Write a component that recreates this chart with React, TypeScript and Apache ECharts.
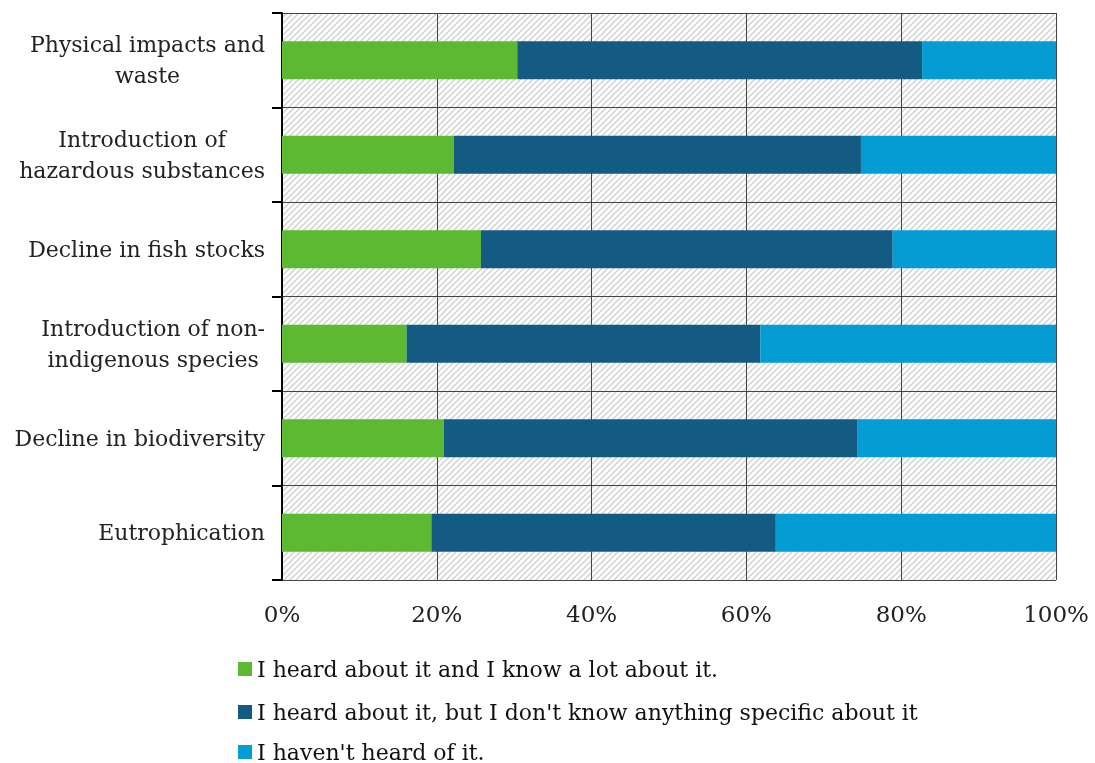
import React, { useEffect, useRef } from "react";
import * as echarts from "echarts";

const categories = [
  "Physical impacts and\nwaste",
  "Introduction of\nhazardous substances",
  "Decline in fish stocks",
  "Introduction of non-\nindigenous species",
  "Decline in biodiversity",
  "Eutrophication",
];

const knowALot = [30.4, 22.2, 25.7, 16.1, 20.9, 19.3];
const heardNothingSpecific = [52.3, 52.6, 53.2, 45.7, 53.4, 44.5];
const neverHeard = [17.3, 25.2, 21.1, 38.2, 25.7, 36.2];

const seriesNames = [
  "I heard about it and I know a lot about it.",
  "I heard about it, but I don't know anything specific about it",
  "I haven't heard of it.",
];

const xTicks = [0, 20, 40, 60, 80, 100];

const COLORS = ["#5DB832", "#145B84", "#039CD3"];
const FONT = "DejaVu Serif";

// one legend row per series, stacked from this top offset
const LEGEND_ROW_TOPS = [657, 700, 740];

const hatchSvg =
  '<svg xmlns="http://www.w3.org/2000/svg" width="6" height="6">' +
  '<rect width="6" height="6" fill="#ffffff"/>' +
  '<path d="M-1.5 1.5 L1.5 -1.5 M0 6 L6 0 M4.5 7.5 L7.5 4.5" stroke="#d2d2d2" stroke-width="1.5"/>' +
  "</svg>";
const hatchUrl = "data:image/svg+xml;base64," + btoa(hatchSvg);

export default function App() {
  const ref = useRef<HTMLDivElement>(null);

  useEffect(() => {
    if (!ref.current) return;
    const chart = echarts.init(ref.current, null, { renderer: "svg" });
    const data = [knowALot, heardNothingSpecific, neverHeard];
    chart.setOption({
      animation: false,
      grid: {
        left: 282,
        right: 39,
        top: 13,
        bottom: 183,
        show: true,
        borderWidth: 0,
        backgroundColor: { image: hatchUrl, repeat: "repeat" } as any,
      },
      legend: seriesNames.map((name, i) => ({
        orient: "horizontal",
        left: 238,
        top: LEGEND_ROW_TOPS[i],
        padding: 0,
        itemWidth: 14,
        itemHeight: 14,
        icon: "rect",
        textStyle: { fontFamily: FONT, fontSize: 22, color: "#111", lineHeight: 24 },
        data: [name],
      })),
      xAxis: {
        type: "value",
        min: 0,
        max: 100,
        interval: 20,
        axisLine: { show: false },
        axisTick: { show: false },
        splitLine: { show: true, lineStyle: { color: "#444", width: 1 } },
        axisLabel: {
          formatter: (v: number) => (xTicks.includes(v) ? v + "%" : ""),
          fontFamily: FONT,
          fontSize: 23,
          color: "#222",
          margin: 22,
        },
      },
      yAxis: {
        type: "category",
        inverse: true,
        data: categories,
        axisLine: { show: true, lineStyle: { color: "#000", width: 2 } },
        axisTick: { show: true, length: 10, lineStyle: { color: "#000", width: 2 } },
        splitLine: { show: true, lineStyle: { color: "#444", width: 1 } },
        axisLabel: {
          color: "#222",
          margin: 17,
          align: "right",
          formatter: (v: string) =>
            v
              .split("\n")
              .map((line) => `{c|${line}}`)
              .join("\n"),
          rich: {
            c: {
              align: "center",
              fontFamily: FONT,
              fontSize: 22,
              lineHeight: 31,
              color: "#222",
            },
          },
        },
      },
      series: seriesNames.map((name, i) => ({
        name,
        type: "bar",
        stack: "total",
        barWidth: "40%",
        data: data[i],
        itemStyle: { color: COLORS[i] },
      })),
    });
    return () => chart.dispose();
  }, []);

  return (
    <div
      ref={ref}
      style={{ position: "fixed", left: 0, top: 0, width: 1095, height: 763 }}
    />
  );
}
